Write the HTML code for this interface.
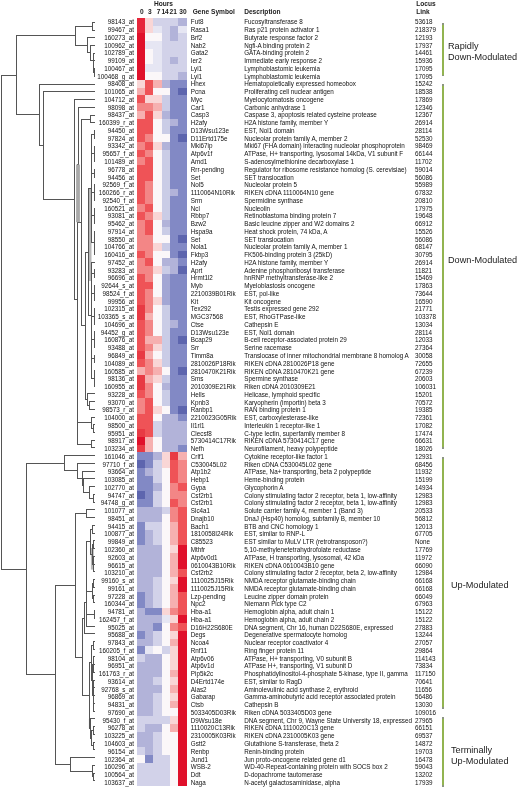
<!DOCTYPE html>
<html><head><meta charset="utf-8"><style>
html,body{margin:0;padding:0;background:#fff;}
#p{position:relative;width:520px;height:787px;overflow:hidden;background:#fff;font-family:"Liberation Sans",sans-serif;color:#333;}
#tx{position:absolute;left:0;top:0;width:520px;height:787px;filter:grayscale(1) blur(0.3px);color:#111;}
svg{position:absolute;left:0;top:0;}
.t{position:absolute;font-size:6.3px;line-height:7.76px;height:7.76px;white-space:nowrap;transform:scaleX(1.0);transform-origin:0 0;}
.id{right:385.90px;text-align:right;transform-origin:100% 0;}
.sy{left:190.8px;}
.de{left:244.2px;}
.lo{left:415px;}
.h{position:absolute;font-weight:bold;font-size:6.6px;line-height:8px;white-space:nowrap;color:#222;}
.g{position:absolute;font-size:8.8px;line-height:11.3px;white-space:nowrap;color:#1a1a1a;transform:scaleX(1.04);transform-origin:0 0;}
</style></head><body><div id="p">
<svg width="520" height="787" viewBox="0 0 520 787" shape-rendering="crispEdges" style="filter:blur(0.45px)">
<rect x="136.60" y="17.80" width="8.67" height="8.06" fill="#e6263a"/><rect x="144.97" y="17.80" width="8.67" height="8.06" fill="#f9d6d6"/><rect x="153.34" y="17.80" width="8.67" height="8.06" fill="#d2d2e9"/><rect x="161.71" y="17.80" width="8.67" height="8.06" fill="#d2d2e9"/><rect x="170.08" y="17.80" width="8.67" height="8.06" fill="#d2d2e9"/><rect x="178.45" y="17.80" width="8.37" height="8.06" fill="#b2b3d9"/><rect x="136.60" y="25.56" width="8.67" height="8.06" fill="#e6263a"/><rect x="144.97" y="25.56" width="8.67" height="8.06" fill="#f9d6d6"/><rect x="153.34" y="25.56" width="8.67" height="8.06" fill="#e6e6f3"/><rect x="161.71" y="25.56" width="8.67" height="8.06" fill="#d2d2e9"/><rect x="170.08" y="25.56" width="8.67" height="8.06" fill="#b2b3d9"/><rect x="178.45" y="25.56" width="8.37" height="8.06" fill="#e6e6f3"/><rect x="136.60" y="33.32" width="8.67" height="8.06" fill="#e0112b"/><rect x="144.97" y="33.32" width="8.67" height="8.06" fill="#fbf7f9"/><rect x="153.34" y="33.32" width="8.67" height="8.06" fill="#fbf7f9"/><rect x="161.71" y="33.32" width="8.67" height="8.06" fill="#d2d2e9"/><rect x="170.08" y="33.32" width="8.67" height="8.06" fill="#b2b3d9"/><rect x="178.45" y="33.32" width="8.37" height="8.06" fill="#d2d2e9"/><rect x="136.60" y="41.08" width="8.67" height="8.06" fill="#e0112b"/><rect x="144.97" y="41.08" width="8.67" height="8.06" fill="#e6e6f3"/><rect x="153.34" y="41.08" width="8.67" height="8.06" fill="#e6e6f3"/><rect x="161.71" y="41.08" width="8.67" height="8.06" fill="#d2d2e9"/><rect x="170.08" y="41.08" width="8.67" height="8.06" fill="#d2d2e9"/><rect x="178.45" y="41.08" width="8.37" height="8.06" fill="#d2d2e9"/><rect x="136.60" y="48.84" width="8.67" height="8.06" fill="#e0112b"/><rect x="144.97" y="48.84" width="8.67" height="8.06" fill="#fbf7f9"/><rect x="153.34" y="48.84" width="8.67" height="8.06" fill="#e6e6f3"/><rect x="161.71" y="48.84" width="8.67" height="8.06" fill="#d2d2e9"/><rect x="170.08" y="48.84" width="8.67" height="8.06" fill="#d2d2e9"/><rect x="178.45" y="48.84" width="8.37" height="8.06" fill="#d2d2e9"/><rect x="136.60" y="56.60" width="8.67" height="8.06" fill="#e0112b"/><rect x="144.97" y="56.60" width="8.67" height="8.06" fill="#fbf7f9"/><rect x="153.34" y="56.60" width="8.67" height="8.06" fill="#e6e6f3"/><rect x="161.71" y="56.60" width="8.67" height="8.06" fill="#d2d2e9"/><rect x="170.08" y="56.60" width="8.67" height="8.06" fill="#b2b3d9"/><rect x="178.45" y="56.60" width="8.37" height="8.06" fill="#d2d2e9"/><rect x="136.60" y="64.36" width="8.67" height="8.06" fill="#e0112b"/><rect x="144.97" y="64.36" width="8.67" height="8.06" fill="#e6e6f3"/><rect x="153.34" y="64.36" width="8.67" height="8.06" fill="#e6e6f3"/><rect x="161.71" y="64.36" width="8.67" height="8.06" fill="#d2d2e9"/><rect x="170.08" y="64.36" width="8.67" height="8.06" fill="#d2d2e9"/><rect x="178.45" y="64.36" width="8.37" height="8.06" fill="#d2d2e9"/><rect x="136.60" y="72.12" width="8.67" height="8.06" fill="#e0112b"/><rect x="144.97" y="72.12" width="8.67" height="8.06" fill="#fbf7f9"/><rect x="153.34" y="72.12" width="8.67" height="8.06" fill="#fbf7f9"/><rect x="161.71" y="72.12" width="8.67" height="8.06" fill="#d2d2e9"/><rect x="170.08" y="72.12" width="8.67" height="8.06" fill="#d2d2e9"/><rect x="178.45" y="72.12" width="8.37" height="8.06" fill="#b2b3d9"/><rect x="136.60" y="79.88" width="8.67" height="8.06" fill="#f9d6d6"/><rect x="144.97" y="79.88" width="8.67" height="8.06" fill="#ef5357"/><rect x="153.34" y="79.88" width="8.67" height="8.06" fill="#f6b0b0"/><rect x="161.71" y="79.88" width="8.67" height="8.06" fill="#b2b3d9"/><rect x="170.08" y="79.88" width="8.67" height="8.06" fill="#8289c5"/><rect x="178.45" y="79.88" width="8.37" height="8.06" fill="#8289c5"/><rect x="136.60" y="87.64" width="8.67" height="8.06" fill="#f6b0b0"/><rect x="144.97" y="87.64" width="8.67" height="8.06" fill="#ef5357"/><rect x="153.34" y="87.64" width="8.67" height="8.06" fill="#fbf7f9"/><rect x="161.71" y="87.64" width="8.67" height="8.06" fill="#fbf7f9"/><rect x="170.08" y="87.64" width="8.67" height="8.06" fill="#8289c5"/><rect x="178.45" y="87.64" width="8.37" height="8.06" fill="#5d65ae"/><rect x="136.60" y="95.40" width="8.67" height="8.06" fill="#ef5357"/><rect x="144.97" y="95.40" width="8.67" height="8.06" fill="#f9d6d6"/><rect x="153.34" y="95.40" width="8.67" height="8.06" fill="#f9d6d6"/><rect x="161.71" y="95.40" width="8.67" height="8.06" fill="#caccE6"/><rect x="170.08" y="95.40" width="8.67" height="8.06" fill="#8289c5"/><rect x="178.45" y="95.40" width="8.37" height="8.06" fill="#8289c5"/><rect x="136.60" y="103.16" width="8.67" height="8.06" fill="#f38686"/><rect x="144.97" y="103.16" width="8.67" height="8.06" fill="#f38686"/><rect x="153.34" y="103.16" width="8.67" height="8.06" fill="#f6b0b0"/><rect x="161.71" y="103.16" width="8.67" height="8.06" fill="#caccE6"/><rect x="170.08" y="103.16" width="8.67" height="8.06" fill="#8289c5"/><rect x="178.45" y="103.16" width="8.37" height="8.06" fill="#8289c5"/><rect x="136.60" y="110.92" width="8.67" height="8.06" fill="#f6b0b0"/><rect x="144.97" y="110.92" width="8.67" height="8.06" fill="#ef5357"/><rect x="153.34" y="110.92" width="8.67" height="8.06" fill="#f9d6d6"/><rect x="161.71" y="110.92" width="8.67" height="8.06" fill="#b2b3d9"/><rect x="170.08" y="110.92" width="8.67" height="8.06" fill="#8289c5"/><rect x="178.45" y="110.92" width="8.37" height="8.06" fill="#8289c5"/><rect x="136.60" y="118.68" width="8.67" height="8.06" fill="#ef5357"/><rect x="144.97" y="118.68" width="8.67" height="8.06" fill="#ef5357"/><rect x="153.34" y="118.68" width="8.67" height="8.06" fill="#fbf7f9"/><rect x="161.71" y="118.68" width="8.67" height="8.06" fill="#caccE6"/><rect x="170.08" y="118.68" width="8.67" height="8.06" fill="#b2b3d9"/><rect x="178.45" y="118.68" width="8.37" height="8.06" fill="#8289c5"/><rect x="136.60" y="126.44" width="8.67" height="8.06" fill="#ef5357"/><rect x="144.97" y="126.44" width="8.67" height="8.06" fill="#ef5357"/><rect x="153.34" y="126.44" width="8.67" height="8.06" fill="#fbf7f9"/><rect x="161.71" y="126.44" width="8.67" height="8.06" fill="#caccE6"/><rect x="170.08" y="126.44" width="8.67" height="8.06" fill="#8289c5"/><rect x="178.45" y="126.44" width="8.37" height="8.06" fill="#8289c5"/><rect x="136.60" y="134.20" width="8.67" height="8.06" fill="#ef5357"/><rect x="144.97" y="134.20" width="8.67" height="8.06" fill="#f38686"/><rect x="153.34" y="134.20" width="8.67" height="8.06" fill="#fbf7f9"/><rect x="161.71" y="134.20" width="8.67" height="8.06" fill="#fbf7f9"/><rect x="170.08" y="134.20" width="8.67" height="8.06" fill="#8289c5"/><rect x="178.45" y="134.20" width="8.37" height="8.06" fill="#5d65ae"/><rect x="136.60" y="141.96" width="8.67" height="8.06" fill="#f38686"/><rect x="144.97" y="141.96" width="8.67" height="8.06" fill="#ef5357"/><rect x="153.34" y="141.96" width="8.67" height="8.06" fill="#f9d6d6"/><rect x="161.71" y="141.96" width="8.67" height="8.06" fill="#b2b3d9"/><rect x="170.08" y="141.96" width="8.67" height="8.06" fill="#8289c5"/><rect x="178.45" y="141.96" width="8.37" height="8.06" fill="#8289c5"/><rect x="136.60" y="149.72" width="8.67" height="8.06" fill="#ef5357"/><rect x="144.97" y="149.72" width="8.67" height="8.06" fill="#f38686"/><rect x="153.34" y="149.72" width="8.67" height="8.06" fill="#fbf7f9"/><rect x="161.71" y="149.72" width="8.67" height="8.06" fill="#caccE6"/><rect x="170.08" y="149.72" width="8.67" height="8.06" fill="#8289c5"/><rect x="178.45" y="149.72" width="8.37" height="8.06" fill="#8289c5"/><rect x="136.60" y="157.48" width="8.67" height="8.06" fill="#f38686"/><rect x="144.97" y="157.48" width="8.67" height="8.06" fill="#ef5357"/><rect x="153.34" y="157.48" width="8.67" height="8.06" fill="#fbf7f9"/><rect x="161.71" y="157.48" width="8.67" height="8.06" fill="#caccE6"/><rect x="170.08" y="157.48" width="8.67" height="8.06" fill="#8289c5"/><rect x="178.45" y="157.48" width="8.37" height="8.06" fill="#8289c5"/><rect x="136.60" y="165.24" width="8.67" height="8.06" fill="#ef5357"/><rect x="144.97" y="165.24" width="8.67" height="8.06" fill="#ef5357"/><rect x="153.34" y="165.24" width="8.67" height="8.06" fill="#fbf7f9"/><rect x="161.71" y="165.24" width="8.67" height="8.06" fill="#caccE6"/><rect x="170.08" y="165.24" width="8.67" height="8.06" fill="#8289c5"/><rect x="178.45" y="165.24" width="8.37" height="8.06" fill="#8289c5"/><rect x="136.60" y="173.00" width="8.67" height="8.06" fill="#ef5357"/><rect x="144.97" y="173.00" width="8.67" height="8.06" fill="#ef5357"/><rect x="153.34" y="173.00" width="8.67" height="8.06" fill="#fbf7f9"/><rect x="161.71" y="173.00" width="8.67" height="8.06" fill="#caccE6"/><rect x="170.08" y="173.00" width="8.67" height="8.06" fill="#8289c5"/><rect x="178.45" y="173.00" width="8.37" height="8.06" fill="#8289c5"/><rect x="136.60" y="180.76" width="8.67" height="8.06" fill="#ef5357"/><rect x="144.97" y="180.76" width="8.67" height="8.06" fill="#f38686"/><rect x="153.34" y="180.76" width="8.67" height="8.06" fill="#fbf7f9"/><rect x="161.71" y="180.76" width="8.67" height="8.06" fill="#caccE6"/><rect x="170.08" y="180.76" width="8.67" height="8.06" fill="#8289c5"/><rect x="178.45" y="180.76" width="8.37" height="8.06" fill="#8289c5"/><rect x="136.60" y="188.52" width="8.67" height="8.06" fill="#ef5357"/><rect x="144.97" y="188.52" width="8.67" height="8.06" fill="#f38686"/><rect x="153.34" y="188.52" width="8.67" height="8.06" fill="#fbf7f9"/><rect x="161.71" y="188.52" width="8.67" height="8.06" fill="#caccE6"/><rect x="170.08" y="188.52" width="8.67" height="8.06" fill="#b2b3d9"/><rect x="178.45" y="188.52" width="8.37" height="8.06" fill="#8289c5"/><rect x="136.60" y="196.28" width="8.67" height="8.06" fill="#ef5357"/><rect x="144.97" y="196.28" width="8.67" height="8.06" fill="#f38686"/><rect x="153.34" y="196.28" width="8.67" height="8.06" fill="#fbf7f9"/><rect x="161.71" y="196.28" width="8.67" height="8.06" fill="#caccE6"/><rect x="170.08" y="196.28" width="8.67" height="8.06" fill="#8289c5"/><rect x="178.45" y="196.28" width="8.37" height="8.06" fill="#8289c5"/><rect x="136.60" y="204.04" width="8.67" height="8.06" fill="#f38686"/><rect x="144.97" y="204.04" width="8.67" height="8.06" fill="#ef5357"/><rect x="153.34" y="204.04" width="8.67" height="8.06" fill="#fbf7f9"/><rect x="161.71" y="204.04" width="8.67" height="8.06" fill="#caccE6"/><rect x="170.08" y="204.04" width="8.67" height="8.06" fill="#8289c5"/><rect x="178.45" y="204.04" width="8.37" height="8.06" fill="#8289c5"/><rect x="136.60" y="211.80" width="8.67" height="8.06" fill="#ef5357"/><rect x="144.97" y="211.80" width="8.67" height="8.06" fill="#f38686"/><rect x="153.34" y="211.80" width="8.67" height="8.06" fill="#f9d6d6"/><rect x="161.71" y="211.80" width="8.67" height="8.06" fill="#caccE6"/><rect x="170.08" y="211.80" width="8.67" height="8.06" fill="#8289c5"/><rect x="178.45" y="211.80" width="8.37" height="8.06" fill="#8289c5"/><rect x="136.60" y="219.56" width="8.67" height="8.06" fill="#f38686"/><rect x="144.97" y="219.56" width="8.67" height="8.06" fill="#ef5357"/><rect x="153.34" y="219.56" width="8.67" height="8.06" fill="#fbf7f9"/><rect x="161.71" y="219.56" width="8.67" height="8.06" fill="#b2b3d9"/><rect x="170.08" y="219.56" width="8.67" height="8.06" fill="#8289c5"/><rect x="178.45" y="219.56" width="8.37" height="8.06" fill="#8289c5"/><rect x="136.60" y="227.32" width="8.67" height="8.06" fill="#f38686"/><rect x="144.97" y="227.32" width="8.67" height="8.06" fill="#ef5357"/><rect x="153.34" y="227.32" width="8.67" height="8.06" fill="#fbf7f9"/><rect x="161.71" y="227.32" width="8.67" height="8.06" fill="#caccE6"/><rect x="170.08" y="227.32" width="8.67" height="8.06" fill="#8289c5"/><rect x="178.45" y="227.32" width="8.37" height="8.06" fill="#8289c5"/><rect x="136.60" y="235.08" width="8.67" height="8.06" fill="#f38686"/><rect x="144.97" y="235.08" width="8.67" height="8.06" fill="#f38686"/><rect x="153.34" y="235.08" width="8.67" height="8.06" fill="#fbf7f9"/><rect x="161.71" y="235.08" width="8.67" height="8.06" fill="#fbf7f9"/><rect x="170.08" y="235.08" width="8.67" height="8.06" fill="#8289c5"/><rect x="178.45" y="235.08" width="8.37" height="8.06" fill="#5d65ae"/><rect x="136.60" y="242.84" width="8.67" height="8.06" fill="#f38686"/><rect x="144.97" y="242.84" width="8.67" height="8.06" fill="#f38686"/><rect x="153.34" y="242.84" width="8.67" height="8.06" fill="#f9d6d6"/><rect x="161.71" y="242.84" width="8.67" height="8.06" fill="#caccE6"/><rect x="170.08" y="242.84" width="8.67" height="8.06" fill="#8289c5"/><rect x="178.45" y="242.84" width="8.37" height="8.06" fill="#8289c5"/><rect x="136.60" y="250.60" width="8.67" height="8.06" fill="#ef5357"/><rect x="144.97" y="250.60" width="8.67" height="8.06" fill="#f38686"/><rect x="153.34" y="250.60" width="8.67" height="8.06" fill="#fbf7f9"/><rect x="161.71" y="250.60" width="8.67" height="8.06" fill="#fbf7f9"/><rect x="170.08" y="250.60" width="8.67" height="8.06" fill="#8289c5"/><rect x="178.45" y="250.60" width="8.37" height="8.06" fill="#5d65ae"/><rect x="136.60" y="258.36" width="8.67" height="8.06" fill="#f38686"/><rect x="144.97" y="258.36" width="8.67" height="8.06" fill="#ef5357"/><rect x="153.34" y="258.36" width="8.67" height="8.06" fill="#fbf7f9"/><rect x="161.71" y="258.36" width="8.67" height="8.06" fill="#b2b3d9"/><rect x="170.08" y="258.36" width="8.67" height="8.06" fill="#b2b3d9"/><rect x="178.45" y="258.36" width="8.37" height="8.06" fill="#8289c5"/><rect x="136.60" y="266.12" width="8.67" height="8.06" fill="#f38686"/><rect x="144.97" y="266.12" width="8.67" height="8.06" fill="#f38686"/><rect x="153.34" y="266.12" width="8.67" height="8.06" fill="#f9d6d6"/><rect x="161.71" y="266.12" width="8.67" height="8.06" fill="#caccE6"/><rect x="170.08" y="266.12" width="8.67" height="8.06" fill="#b2b3d9"/><rect x="178.45" y="266.12" width="8.37" height="8.06" fill="#5d65ae"/><rect x="136.60" y="273.88" width="8.67" height="8.06" fill="#ef5357"/><rect x="144.97" y="273.88" width="8.67" height="8.06" fill="#f38686"/><rect x="153.34" y="273.88" width="8.67" height="8.06" fill="#fbf7f9"/><rect x="161.71" y="273.88" width="8.67" height="8.06" fill="#a3a6d4"/><rect x="170.08" y="273.88" width="8.67" height="8.06" fill="#8289c5"/><rect x="178.45" y="273.88" width="8.37" height="8.06" fill="#8289c5"/><rect x="136.60" y="281.64" width="8.67" height="8.06" fill="#ef5357"/><rect x="144.97" y="281.64" width="8.67" height="8.06" fill="#ef5357"/><rect x="153.34" y="281.64" width="8.67" height="8.06" fill="#fbf7f9"/><rect x="161.71" y="281.64" width="8.67" height="8.06" fill="#a3a6d4"/><rect x="170.08" y="281.64" width="8.67" height="8.06" fill="#8289c5"/><rect x="178.45" y="281.64" width="8.37" height="8.06" fill="#8289c5"/><rect x="136.60" y="289.40" width="8.67" height="8.06" fill="#ef5357"/><rect x="144.97" y="289.40" width="8.67" height="8.06" fill="#f38686"/><rect x="153.34" y="289.40" width="8.67" height="8.06" fill="#fbf7f9"/><rect x="161.71" y="289.40" width="8.67" height="8.06" fill="#a3a6d4"/><rect x="170.08" y="289.40" width="8.67" height="8.06" fill="#8289c5"/><rect x="178.45" y="289.40" width="8.37" height="8.06" fill="#8289c5"/><rect x="136.60" y="297.16" width="8.67" height="8.06" fill="#ef5357"/><rect x="144.97" y="297.16" width="8.67" height="8.06" fill="#f38686"/><rect x="153.34" y="297.16" width="8.67" height="8.06" fill="#f9d6d6"/><rect x="161.71" y="297.16" width="8.67" height="8.06" fill="#a3a6d4"/><rect x="170.08" y="297.16" width="8.67" height="8.06" fill="#8289c5"/><rect x="178.45" y="297.16" width="8.37" height="8.06" fill="#8289c5"/><rect x="136.60" y="304.92" width="8.67" height="8.06" fill="#e83a44"/><rect x="144.97" y="304.92" width="8.67" height="8.06" fill="#f38686"/><rect x="153.34" y="304.92" width="8.67" height="8.06" fill="#fbf7f9"/><rect x="161.71" y="304.92" width="8.67" height="8.06" fill="#caccE6"/><rect x="170.08" y="304.92" width="8.67" height="8.06" fill="#8289c5"/><rect x="178.45" y="304.92" width="8.37" height="8.06" fill="#8289c5"/><rect x="136.60" y="312.68" width="8.67" height="8.06" fill="#e83a44"/><rect x="144.97" y="312.68" width="8.67" height="8.06" fill="#f6b0b0"/><rect x="153.34" y="312.68" width="8.67" height="8.06" fill="#fbf7f9"/><rect x="161.71" y="312.68" width="8.67" height="8.06" fill="#caccE6"/><rect x="170.08" y="312.68" width="8.67" height="8.06" fill="#8289c5"/><rect x="178.45" y="312.68" width="8.37" height="8.06" fill="#8289c5"/><rect x="136.60" y="320.44" width="8.67" height="8.06" fill="#ef5357"/><rect x="144.97" y="320.44" width="8.67" height="8.06" fill="#f38686"/><rect x="153.34" y="320.44" width="8.67" height="8.06" fill="#fbf7f9"/><rect x="161.71" y="320.44" width="8.67" height="8.06" fill="#caccE6"/><rect x="170.08" y="320.44" width="8.67" height="8.06" fill="#b2b3d9"/><rect x="178.45" y="320.44" width="8.37" height="8.06" fill="#8289c5"/><rect x="136.60" y="328.20" width="8.67" height="8.06" fill="#ef5357"/><rect x="144.97" y="328.20" width="8.67" height="8.06" fill="#f38686"/><rect x="153.34" y="328.20" width="8.67" height="8.06" fill="#fbf7f9"/><rect x="161.71" y="328.20" width="8.67" height="8.06" fill="#caccE6"/><rect x="170.08" y="328.20" width="8.67" height="8.06" fill="#8289c5"/><rect x="178.45" y="328.20" width="8.37" height="8.06" fill="#8289c5"/><rect x="136.60" y="335.96" width="8.67" height="8.06" fill="#ef5357"/><rect x="144.97" y="335.96" width="8.67" height="8.06" fill="#f6b0b0"/><rect x="153.34" y="335.96" width="8.67" height="8.06" fill="#f6b0b0"/><rect x="161.71" y="335.96" width="8.67" height="8.06" fill="#caccE6"/><rect x="170.08" y="335.96" width="8.67" height="8.06" fill="#8289c5"/><rect x="178.45" y="335.96" width="8.37" height="8.06" fill="#5d65ae"/><rect x="136.60" y="343.72" width="8.67" height="8.06" fill="#ef5357"/><rect x="144.97" y="343.72" width="8.67" height="8.06" fill="#f38686"/><rect x="153.34" y="343.72" width="8.67" height="8.06" fill="#f9d6d6"/><rect x="161.71" y="343.72" width="8.67" height="8.06" fill="#caccE6"/><rect x="170.08" y="343.72" width="8.67" height="8.06" fill="#8289c5"/><rect x="178.45" y="343.72" width="8.37" height="8.06" fill="#8289c5"/><rect x="136.60" y="351.48" width="8.67" height="8.06" fill="#e83a44"/><rect x="144.97" y="351.48" width="8.67" height="8.06" fill="#f6b0b0"/><rect x="153.34" y="351.48" width="8.67" height="8.06" fill="#fbf7f9"/><rect x="161.71" y="351.48" width="8.67" height="8.06" fill="#caccE6"/><rect x="170.08" y="351.48" width="8.67" height="8.06" fill="#8289c5"/><rect x="178.45" y="351.48" width="8.37" height="8.06" fill="#8289c5"/><rect x="136.60" y="359.24" width="8.67" height="8.06" fill="#ef5357"/><rect x="144.97" y="359.24" width="8.67" height="8.06" fill="#f38686"/><rect x="153.34" y="359.24" width="8.67" height="8.06" fill="#f9d6d6"/><rect x="161.71" y="359.24" width="8.67" height="8.06" fill="#caccE6"/><rect x="170.08" y="359.24" width="8.67" height="8.06" fill="#8289c5"/><rect x="178.45" y="359.24" width="8.37" height="8.06" fill="#8289c5"/><rect x="136.60" y="367.00" width="8.67" height="8.06" fill="#f6b0b0"/><rect x="144.97" y="367.00" width="8.67" height="8.06" fill="#f38686"/><rect x="153.34" y="367.00" width="8.67" height="8.06" fill="#f6b0b0"/><rect x="161.71" y="367.00" width="8.67" height="8.06" fill="#fbf7f9"/><rect x="170.08" y="367.00" width="8.67" height="8.06" fill="#8289c5"/><rect x="178.45" y="367.00" width="8.37" height="8.06" fill="#5d65ae"/><rect x="136.60" y="374.76" width="8.67" height="8.06" fill="#e83a44"/><rect x="144.97" y="374.76" width="8.67" height="8.06" fill="#f6b0b0"/><rect x="153.34" y="374.76" width="8.67" height="8.06" fill="#f9d6d6"/><rect x="161.71" y="374.76" width="8.67" height="8.06" fill="#caccE6"/><rect x="170.08" y="374.76" width="8.67" height="8.06" fill="#8289c5"/><rect x="178.45" y="374.76" width="8.37" height="8.06" fill="#8289c5"/><rect x="136.60" y="382.52" width="8.67" height="8.06" fill="#e83a44"/><rect x="144.97" y="382.52" width="8.67" height="8.06" fill="#f38686"/><rect x="153.34" y="382.52" width="8.67" height="8.06" fill="#fbf7f9"/><rect x="161.71" y="382.52" width="8.67" height="8.06" fill="#b2b3d9"/><rect x="170.08" y="382.52" width="8.67" height="8.06" fill="#8289c5"/><rect x="178.45" y="382.52" width="8.37" height="8.06" fill="#8289c5"/><rect x="136.60" y="390.28" width="8.67" height="8.06" fill="#ef5357"/><rect x="144.97" y="390.28" width="8.67" height="8.06" fill="#f38686"/><rect x="153.34" y="390.28" width="8.67" height="8.06" fill="#fbf7f9"/><rect x="161.71" y="390.28" width="8.67" height="8.06" fill="#caccE6"/><rect x="170.08" y="390.28" width="8.67" height="8.06" fill="#8289c5"/><rect x="178.45" y="390.28" width="8.37" height="8.06" fill="#8289c5"/><rect x="136.60" y="398.04" width="8.67" height="8.06" fill="#f38686"/><rect x="144.97" y="398.04" width="8.67" height="8.06" fill="#ef5357"/><rect x="153.34" y="398.04" width="8.67" height="8.06" fill="#fbf7f9"/><rect x="161.71" y="398.04" width="8.67" height="8.06" fill="#caccE6"/><rect x="170.08" y="398.04" width="8.67" height="8.06" fill="#8289c5"/><rect x="178.45" y="398.04" width="8.37" height="8.06" fill="#8289c5"/><rect x="136.60" y="405.80" width="8.67" height="8.06" fill="#f38686"/><rect x="144.97" y="405.80" width="8.67" height="8.06" fill="#ef5357"/><rect x="153.34" y="405.80" width="8.67" height="8.06" fill="#f9d6d6"/><rect x="161.71" y="405.80" width="8.67" height="8.06" fill="#fbf7f9"/><rect x="170.08" y="405.80" width="8.67" height="8.06" fill="#8289c5"/><rect x="178.45" y="405.80" width="8.37" height="8.06" fill="#5d65ae"/><rect x="136.60" y="413.56" width="8.67" height="8.06" fill="#ef5357"/><rect x="144.97" y="413.56" width="8.67" height="8.06" fill="#ef5357"/><rect x="153.34" y="413.56" width="8.67" height="8.06" fill="#fbf7f9"/><rect x="161.71" y="413.56" width="8.67" height="8.06" fill="#b2b3d9"/><rect x="170.08" y="413.56" width="8.67" height="8.06" fill="#b2b3d9"/><rect x="178.45" y="413.56" width="8.37" height="8.06" fill="#8289c5"/><rect x="136.60" y="421.32" width="8.67" height="8.06" fill="#ef5357"/><rect x="144.97" y="421.32" width="8.67" height="8.06" fill="#ef5357"/><rect x="153.34" y="421.32" width="8.67" height="8.06" fill="#d2d2e9"/><rect x="161.71" y="421.32" width="8.67" height="8.06" fill="#b2b3d9"/><rect x="170.08" y="421.32" width="8.67" height="8.06" fill="#b2b3d9"/><rect x="178.45" y="421.32" width="8.37" height="8.06" fill="#b2b3d9"/><rect x="136.60" y="429.08" width="8.67" height="8.06" fill="#e83a44"/><rect x="144.97" y="429.08" width="8.67" height="8.06" fill="#ef5357"/><rect x="153.34" y="429.08" width="8.67" height="8.06" fill="#d2d2e9"/><rect x="161.71" y="429.08" width="8.67" height="8.06" fill="#b2b3d9"/><rect x="170.08" y="429.08" width="8.67" height="8.06" fill="#b2b3d9"/><rect x="178.45" y="429.08" width="8.37" height="8.06" fill="#b2b3d9"/><rect x="136.60" y="436.84" width="8.67" height="8.06" fill="#e0112b"/><rect x="144.97" y="436.84" width="8.67" height="8.06" fill="#f6b0b0"/><rect x="153.34" y="436.84" width="8.67" height="8.06" fill="#fbf7f9"/><rect x="161.71" y="436.84" width="8.67" height="8.06" fill="#b2b3d9"/><rect x="170.08" y="436.84" width="8.67" height="8.06" fill="#b2b3d9"/><rect x="178.45" y="436.84" width="8.37" height="8.06" fill="#b2b3d9"/><rect x="136.60" y="444.60" width="8.67" height="8.06" fill="#e83a44"/><rect x="144.97" y="444.60" width="8.67" height="8.06" fill="#f6b0b0"/><rect x="153.34" y="444.60" width="8.67" height="8.06" fill="#fbf7f9"/><rect x="161.71" y="444.60" width="8.67" height="8.06" fill="#b2b3d9"/><rect x="170.08" y="444.60" width="8.67" height="8.06" fill="#b2b3d9"/><rect x="178.45" y="444.60" width="8.37" height="8.06" fill="#8289c5"/><rect x="136.60" y="452.36" width="8.67" height="8.06" fill="#8289c5"/><rect x="144.97" y="452.36" width="8.67" height="8.06" fill="#8289c5"/><rect x="153.34" y="452.36" width="8.67" height="8.06" fill="#b2b3d9"/><rect x="161.71" y="452.36" width="8.67" height="8.06" fill="#f9d6d6"/><rect x="170.08" y="452.36" width="8.67" height="8.06" fill="#e83a44"/><rect x="178.45" y="452.36" width="8.37" height="8.06" fill="#f6b0b0"/><rect x="136.60" y="460.12" width="8.67" height="8.06" fill="#5d65ae"/><rect x="144.97" y="460.12" width="8.67" height="8.06" fill="#8289c5"/><rect x="153.34" y="460.12" width="8.67" height="8.06" fill="#d2d2e9"/><rect x="161.71" y="460.12" width="8.67" height="8.06" fill="#f9d6d6"/><rect x="170.08" y="460.12" width="8.67" height="8.06" fill="#ef5357"/><rect x="178.45" y="460.12" width="8.37" height="8.06" fill="#f38686"/><rect x="136.60" y="467.88" width="8.67" height="8.06" fill="#8289c5"/><rect x="144.97" y="467.88" width="8.67" height="8.06" fill="#b2b3d9"/><rect x="153.34" y="467.88" width="8.67" height="8.06" fill="#d2d2e9"/><rect x="161.71" y="467.88" width="8.67" height="8.06" fill="#fbf7f9"/><rect x="170.08" y="467.88" width="8.67" height="8.06" fill="#ef5357"/><rect x="178.45" y="467.88" width="8.37" height="8.06" fill="#f38686"/><rect x="136.60" y="475.64" width="8.67" height="8.06" fill="#8289c5"/><rect x="144.97" y="475.64" width="8.67" height="8.06" fill="#8289c5"/><rect x="153.34" y="475.64" width="8.67" height="8.06" fill="#d2d2e9"/><rect x="161.71" y="475.64" width="8.67" height="8.06" fill="#fbf7f9"/><rect x="170.08" y="475.64" width="8.67" height="8.06" fill="#ef5357"/><rect x="178.45" y="475.64" width="8.37" height="8.06" fill="#f38686"/><rect x="136.60" y="483.40" width="8.67" height="8.06" fill="#8289c5"/><rect x="144.97" y="483.40" width="8.67" height="8.06" fill="#8289c5"/><rect x="153.34" y="483.40" width="8.67" height="8.06" fill="#b2b3d9"/><rect x="161.71" y="483.40" width="8.67" height="8.06" fill="#fbf7f9"/><rect x="170.08" y="483.40" width="8.67" height="8.06" fill="#f38686"/><rect x="178.45" y="483.40" width="8.37" height="8.06" fill="#ef5357"/><rect x="136.60" y="491.16" width="8.67" height="8.06" fill="#5d65ae"/><rect x="144.97" y="491.16" width="8.67" height="8.06" fill="#8289c5"/><rect x="153.34" y="491.16" width="8.67" height="8.06" fill="#d2d2e9"/><rect x="161.71" y="491.16" width="8.67" height="8.06" fill="#fbf7f9"/><rect x="170.08" y="491.16" width="8.67" height="8.06" fill="#f38686"/><rect x="178.45" y="491.16" width="8.37" height="8.06" fill="#f38686"/><rect x="136.60" y="498.92" width="8.67" height="8.06" fill="#8289c5"/><rect x="144.97" y="498.92" width="8.67" height="8.06" fill="#8289c5"/><rect x="153.34" y="498.92" width="8.67" height="8.06" fill="#d2d2e9"/><rect x="161.71" y="498.92" width="8.67" height="8.06" fill="#fbf7f9"/><rect x="170.08" y="498.92" width="8.67" height="8.06" fill="#ef5357"/><rect x="178.45" y="498.92" width="8.37" height="8.06" fill="#f38686"/><rect x="136.60" y="506.68" width="8.67" height="8.06" fill="#b2b3d9"/><rect x="144.97" y="506.68" width="8.67" height="8.06" fill="#b2b3d9"/><rect x="153.34" y="506.68" width="8.67" height="8.06" fill="#b2b3d9"/><rect x="161.71" y="506.68" width="8.67" height="8.06" fill="#d2d2e9"/><rect x="170.08" y="506.68" width="8.67" height="8.06" fill="#f38686"/><rect x="178.45" y="506.68" width="8.37" height="8.06" fill="#ef5357"/><rect x="136.60" y="514.44" width="8.67" height="8.06" fill="#b2b3d9"/><rect x="144.97" y="514.44" width="8.67" height="8.06" fill="#b2b3d9"/><rect x="153.34" y="514.44" width="8.67" height="8.06" fill="#b2b3d9"/><rect x="161.71" y="514.44" width="8.67" height="8.06" fill="#fbf7f9"/><rect x="170.08" y="514.44" width="8.67" height="8.06" fill="#f38686"/><rect x="178.45" y="514.44" width="8.37" height="8.06" fill="#ef5357"/><rect x="136.60" y="522.20" width="8.67" height="8.06" fill="#8289c5"/><rect x="144.97" y="522.20" width="8.67" height="8.06" fill="#d2d2e9"/><rect x="153.34" y="522.20" width="8.67" height="8.06" fill="#d2d2e9"/><rect x="161.71" y="522.20" width="8.67" height="8.06" fill="#fbf7f9"/><rect x="170.08" y="522.20" width="8.67" height="8.06" fill="#f6b0b0"/><rect x="178.45" y="522.20" width="8.37" height="8.06" fill="#ef5357"/><rect x="136.60" y="529.96" width="8.67" height="8.06" fill="#8289c5"/><rect x="144.97" y="529.96" width="8.67" height="8.06" fill="#b2b3d9"/><rect x="153.34" y="529.96" width="8.67" height="8.06" fill="#d2d2e9"/><rect x="161.71" y="529.96" width="8.67" height="8.06" fill="#fbf7f9"/><rect x="170.08" y="529.96" width="8.67" height="8.06" fill="#f6b0b0"/><rect x="178.45" y="529.96" width="8.37" height="8.06" fill="#ef5357"/><rect x="136.60" y="537.72" width="8.67" height="8.06" fill="#8289c5"/><rect x="144.97" y="537.72" width="8.67" height="8.06" fill="#b2b3d9"/><rect x="153.34" y="537.72" width="8.67" height="8.06" fill="#d2d2e9"/><rect x="161.71" y="537.72" width="8.67" height="8.06" fill="#fbf7f9"/><rect x="170.08" y="537.72" width="8.67" height="8.06" fill="#f6b0b0"/><rect x="178.45" y="537.72" width="8.37" height="8.06" fill="#ef5357"/><rect x="136.60" y="545.48" width="8.67" height="8.06" fill="#b2b3d9"/><rect x="144.97" y="545.48" width="8.67" height="8.06" fill="#b2b3d9"/><rect x="153.34" y="545.48" width="8.67" height="8.06" fill="#b2b3d9"/><rect x="161.71" y="545.48" width="8.67" height="8.06" fill="#fbf7f9"/><rect x="170.08" y="545.48" width="8.67" height="8.06" fill="#f9d6d6"/><rect x="178.45" y="545.48" width="8.37" height="8.06" fill="#e0112b"/><rect x="136.60" y="553.24" width="8.67" height="8.06" fill="#b2b3d9"/><rect x="144.97" y="553.24" width="8.67" height="8.06" fill="#b2b3d9"/><rect x="153.34" y="553.24" width="8.67" height="8.06" fill="#b2b3d9"/><rect x="161.71" y="553.24" width="8.67" height="8.06" fill="#fbf7f9"/><rect x="170.08" y="553.24" width="8.67" height="8.06" fill="#f6b0b0"/><rect x="178.45" y="553.24" width="8.37" height="8.06" fill="#e0112b"/><rect x="136.60" y="561.00" width="8.67" height="8.06" fill="#b2b3d9"/><rect x="144.97" y="561.00" width="8.67" height="8.06" fill="#b2b3d9"/><rect x="153.34" y="561.00" width="8.67" height="8.06" fill="#b2b3d9"/><rect x="161.71" y="561.00" width="8.67" height="8.06" fill="#fbf7f9"/><rect x="170.08" y="561.00" width="8.67" height="8.06" fill="#f6b0b0"/><rect x="178.45" y="561.00" width="8.37" height="8.06" fill="#e0112b"/><rect x="136.60" y="568.76" width="8.67" height="8.06" fill="#b2b3d9"/><rect x="144.97" y="568.76" width="8.67" height="8.06" fill="#b2b3d9"/><rect x="153.34" y="568.76" width="8.67" height="8.06" fill="#b2b3d9"/><rect x="161.71" y="568.76" width="8.67" height="8.06" fill="#fbf7f9"/><rect x="170.08" y="568.76" width="8.67" height="8.06" fill="#f6b0b0"/><rect x="178.45" y="568.76" width="8.37" height="8.06" fill="#ef5357"/><rect x="136.60" y="576.52" width="8.67" height="8.06" fill="#b2b3d9"/><rect x="144.97" y="576.52" width="8.67" height="8.06" fill="#b2b3d9"/><rect x="153.34" y="576.52" width="8.67" height="8.06" fill="#d2d2e9"/><rect x="161.71" y="576.52" width="8.67" height="8.06" fill="#fbf7f9"/><rect x="170.08" y="576.52" width="8.67" height="8.06" fill="#f9d6d6"/><rect x="178.45" y="576.52" width="8.37" height="8.06" fill="#e0112b"/><rect x="136.60" y="584.28" width="8.67" height="8.06" fill="#b2b3d9"/><rect x="144.97" y="584.28" width="8.67" height="8.06" fill="#b2b3d9"/><rect x="153.34" y="584.28" width="8.67" height="8.06" fill="#d2d2e9"/><rect x="161.71" y="584.28" width="8.67" height="8.06" fill="#fbf7f9"/><rect x="170.08" y="584.28" width="8.67" height="8.06" fill="#f6b0b0"/><rect x="178.45" y="584.28" width="8.37" height="8.06" fill="#e0112b"/><rect x="136.60" y="592.04" width="8.67" height="8.06" fill="#8289c5"/><rect x="144.97" y="592.04" width="8.67" height="8.06" fill="#b2b3d9"/><rect x="153.34" y="592.04" width="8.67" height="8.06" fill="#d2d2e9"/><rect x="161.71" y="592.04" width="8.67" height="8.06" fill="#fbf7f9"/><rect x="170.08" y="592.04" width="8.67" height="8.06" fill="#f6b0b0"/><rect x="178.45" y="592.04" width="8.37" height="8.06" fill="#ef5357"/><rect x="136.60" y="599.80" width="8.67" height="8.06" fill="#8289c5"/><rect x="144.97" y="599.80" width="8.67" height="8.06" fill="#b2b3d9"/><rect x="153.34" y="599.80" width="8.67" height="8.06" fill="#d2d2e9"/><rect x="161.71" y="599.80" width="8.67" height="8.06" fill="#fbf7f9"/><rect x="170.08" y="599.80" width="8.67" height="8.06" fill="#f6b0b0"/><rect x="178.45" y="599.80" width="8.37" height="8.06" fill="#ef5357"/><rect x="136.60" y="607.56" width="8.67" height="8.06" fill="#b2b3d9"/><rect x="144.97" y="607.56" width="8.67" height="8.06" fill="#8289c5"/><rect x="153.34" y="607.56" width="8.67" height="8.06" fill="#8289c5"/><rect x="161.71" y="607.56" width="8.67" height="8.06" fill="#f9d6d6"/><rect x="170.08" y="607.56" width="8.67" height="8.06" fill="#f38686"/><rect x="178.45" y="607.56" width="8.37" height="8.06" fill="#ef5357"/><rect x="136.60" y="615.32" width="8.67" height="8.06" fill="#b2b3d9"/><rect x="144.97" y="615.32" width="8.67" height="8.06" fill="#b2b3d9"/><rect x="153.34" y="615.32" width="8.67" height="8.06" fill="#b2b3d9"/><rect x="161.71" y="615.32" width="8.67" height="8.06" fill="#e6e6f3"/><rect x="170.08" y="615.32" width="8.67" height="8.06" fill="#f9d6d6"/><rect x="178.45" y="615.32" width="8.37" height="8.06" fill="#e0112b"/><rect x="136.60" y="623.08" width="8.67" height="8.06" fill="#b2b3d9"/><rect x="144.97" y="623.08" width="8.67" height="8.06" fill="#b2b3d9"/><rect x="153.34" y="623.08" width="8.67" height="8.06" fill="#8289c5"/><rect x="161.71" y="623.08" width="8.67" height="8.06" fill="#fbf7f9"/><rect x="170.08" y="623.08" width="8.67" height="8.06" fill="#f38686"/><rect x="178.45" y="623.08" width="8.37" height="8.06" fill="#ef5357"/><rect x="136.60" y="630.84" width="8.67" height="8.06" fill="#8289c5"/><rect x="144.97" y="630.84" width="8.67" height="8.06" fill="#b2b3d9"/><rect x="153.34" y="630.84" width="8.67" height="8.06" fill="#d2d2e9"/><rect x="161.71" y="630.84" width="8.67" height="8.06" fill="#fbf7f9"/><rect x="170.08" y="630.84" width="8.67" height="8.06" fill="#f9d6d6"/><rect x="178.45" y="630.84" width="8.37" height="8.06" fill="#e0112b"/><rect x="136.60" y="638.60" width="8.67" height="8.06" fill="#b2b3d9"/><rect x="144.97" y="638.60" width="8.67" height="8.06" fill="#b2b3d9"/><rect x="153.34" y="638.60" width="8.67" height="8.06" fill="#d2d2e9"/><rect x="161.71" y="638.60" width="8.67" height="8.06" fill="#fbf7f9"/><rect x="170.08" y="638.60" width="8.67" height="8.06" fill="#f6b0b0"/><rect x="178.45" y="638.60" width="8.37" height="8.06" fill="#e0112b"/><rect x="136.60" y="646.36" width="8.67" height="8.06" fill="#8289c5"/><rect x="144.97" y="646.36" width="8.67" height="8.06" fill="#e6e6f3"/><rect x="153.34" y="646.36" width="8.67" height="8.06" fill="#fbf7f9"/><rect x="161.71" y="646.36" width="8.67" height="8.06" fill="#d2d2e9"/><rect x="170.08" y="646.36" width="8.67" height="8.06" fill="#f9d6d6"/><rect x="178.45" y="646.36" width="8.37" height="8.06" fill="#e0112b"/><rect x="136.60" y="654.12" width="8.67" height="8.06" fill="#d2d2e9"/><rect x="144.97" y="654.12" width="8.67" height="8.06" fill="#b2b3d9"/><rect x="153.34" y="654.12" width="8.67" height="8.06" fill="#b2b3d9"/><rect x="161.71" y="654.12" width="8.67" height="8.06" fill="#fbf7f9"/><rect x="170.08" y="654.12" width="8.67" height="8.06" fill="#f9d6d6"/><rect x="178.45" y="654.12" width="8.37" height="8.06" fill="#e0112b"/><rect x="136.60" y="661.88" width="8.67" height="8.06" fill="#b2b3d9"/><rect x="144.97" y="661.88" width="8.67" height="8.06" fill="#b2b3d9"/><rect x="153.34" y="661.88" width="8.67" height="8.06" fill="#b2b3d9"/><rect x="161.71" y="661.88" width="8.67" height="8.06" fill="#fbf7f9"/><rect x="170.08" y="661.88" width="8.67" height="8.06" fill="#f9d6d6"/><rect x="178.45" y="661.88" width="8.37" height="8.06" fill="#e0112b"/><rect x="136.60" y="669.64" width="8.67" height="8.06" fill="#b2b3d9"/><rect x="144.97" y="669.64" width="8.67" height="8.06" fill="#b2b3d9"/><rect x="153.34" y="669.64" width="8.67" height="8.06" fill="#b2b3d9"/><rect x="161.71" y="669.64" width="8.67" height="8.06" fill="#fbf7f9"/><rect x="170.08" y="669.64" width="8.67" height="8.06" fill="#f6b0b0"/><rect x="178.45" y="669.64" width="8.37" height="8.06" fill="#e0112b"/><rect x="136.60" y="677.40" width="8.67" height="8.06" fill="#b2b3d9"/><rect x="144.97" y="677.40" width="8.67" height="8.06" fill="#b2b3d9"/><rect x="153.34" y="677.40" width="8.67" height="8.06" fill="#d2d2e9"/><rect x="161.71" y="677.40" width="8.67" height="8.06" fill="#fbf7f9"/><rect x="170.08" y="677.40" width="8.67" height="8.06" fill="#f9d6d6"/><rect x="178.45" y="677.40" width="8.37" height="8.06" fill="#e0112b"/><rect x="136.60" y="685.16" width="8.67" height="8.06" fill="#b2b3d9"/><rect x="144.97" y="685.16" width="8.67" height="8.06" fill="#b2b3d9"/><rect x="153.34" y="685.16" width="8.67" height="8.06" fill="#b2b3d9"/><rect x="161.71" y="685.16" width="8.67" height="8.06" fill="#fbf7f9"/><rect x="170.08" y="685.16" width="8.67" height="8.06" fill="#f6b0b0"/><rect x="178.45" y="685.16" width="8.37" height="8.06" fill="#e0112b"/><rect x="136.60" y="692.92" width="8.67" height="8.06" fill="#b2b3d9"/><rect x="144.97" y="692.92" width="8.67" height="8.06" fill="#b2b3d9"/><rect x="153.34" y="692.92" width="8.67" height="8.06" fill="#d2d2e9"/><rect x="161.71" y="692.92" width="8.67" height="8.06" fill="#fbf7f9"/><rect x="170.08" y="692.92" width="8.67" height="8.06" fill="#f9d6d6"/><rect x="178.45" y="692.92" width="8.37" height="8.06" fill="#e0112b"/><rect x="136.60" y="700.68" width="8.67" height="8.06" fill="#b2b3d9"/><rect x="144.97" y="700.68" width="8.67" height="8.06" fill="#b2b3d9"/><rect x="153.34" y="700.68" width="8.67" height="8.06" fill="#d2d2e9"/><rect x="161.71" y="700.68" width="8.67" height="8.06" fill="#fbf7f9"/><rect x="170.08" y="700.68" width="8.67" height="8.06" fill="#f6b0b0"/><rect x="178.45" y="700.68" width="8.37" height="8.06" fill="#e0112b"/><rect x="136.60" y="708.44" width="8.67" height="8.06" fill="#b2b3d9"/><rect x="144.97" y="708.44" width="8.67" height="8.06" fill="#b2b3d9"/><rect x="153.34" y="708.44" width="8.67" height="8.06" fill="#d2d2e9"/><rect x="161.71" y="708.44" width="8.67" height="8.06" fill="#fbf7f9"/><rect x="170.08" y="708.44" width="8.67" height="8.06" fill="#fbf7f9"/><rect x="178.45" y="708.44" width="8.37" height="8.06" fill="#e0112b"/><rect x="136.60" y="716.20" width="8.67" height="8.06" fill="#d2d2e9"/><rect x="144.97" y="716.20" width="8.67" height="8.06" fill="#d2d2e9"/><rect x="153.34" y="716.20" width="8.67" height="8.06" fill="#d2d2e9"/><rect x="161.71" y="716.20" width="8.67" height="8.06" fill="#d2d2e9"/><rect x="170.08" y="716.20" width="8.67" height="8.06" fill="#f9d6d6"/><rect x="178.45" y="716.20" width="8.37" height="8.06" fill="#e0112b"/><rect x="136.60" y="723.96" width="8.67" height="8.06" fill="#d2d2e9"/><rect x="144.97" y="723.96" width="8.67" height="8.06" fill="#b2b3d9"/><rect x="153.34" y="723.96" width="8.67" height="8.06" fill="#b2b3d9"/><rect x="161.71" y="723.96" width="8.67" height="8.06" fill="#fbf7f9"/><rect x="170.08" y="723.96" width="8.67" height="8.06" fill="#f6b0b0"/><rect x="178.45" y="723.96" width="8.37" height="8.06" fill="#e0112b"/><rect x="136.60" y="731.72" width="8.67" height="8.06" fill="#b2b3d9"/><rect x="144.97" y="731.72" width="8.67" height="8.06" fill="#b2b3d9"/><rect x="153.34" y="731.72" width="8.67" height="8.06" fill="#d2d2e9"/><rect x="161.71" y="731.72" width="8.67" height="8.06" fill="#fbf7f9"/><rect x="170.08" y="731.72" width="8.67" height="8.06" fill="#fbf7f9"/><rect x="178.45" y="731.72" width="8.37" height="8.06" fill="#e0112b"/><rect x="136.60" y="739.48" width="8.67" height="8.06" fill="#b2b3d9"/><rect x="144.97" y="739.48" width="8.67" height="8.06" fill="#b2b3d9"/><rect x="153.34" y="739.48" width="8.67" height="8.06" fill="#d2d2e9"/><rect x="161.71" y="739.48" width="8.67" height="8.06" fill="#fbf7f9"/><rect x="170.08" y="739.48" width="8.67" height="8.06" fill="#fbf7f9"/><rect x="178.45" y="739.48" width="8.37" height="8.06" fill="#e0112b"/><rect x="136.60" y="747.24" width="8.67" height="8.06" fill="#d2d2e9"/><rect x="144.97" y="747.24" width="8.67" height="8.06" fill="#b2b3d9"/><rect x="153.34" y="747.24" width="8.67" height="8.06" fill="#d2d2e9"/><rect x="161.71" y="747.24" width="8.67" height="8.06" fill="#fbf7f9"/><rect x="170.08" y="747.24" width="8.67" height="8.06" fill="#fbf7f9"/><rect x="178.45" y="747.24" width="8.37" height="8.06" fill="#e0112b"/><rect x="136.60" y="755.00" width="8.67" height="8.06" fill="#fbf7f9"/><rect x="144.97" y="755.00" width="8.67" height="8.06" fill="#8289c5"/><rect x="153.34" y="755.00" width="8.67" height="8.06" fill="#d2d2e9"/><rect x="161.71" y="755.00" width="8.67" height="8.06" fill="#d2d2e9"/><rect x="170.08" y="755.00" width="8.67" height="8.06" fill="#fbf7f9"/><rect x="178.45" y="755.00" width="8.37" height="8.06" fill="#e0112b"/><rect x="136.60" y="762.76" width="8.67" height="8.06" fill="#d2d2e9"/><rect x="144.97" y="762.76" width="8.67" height="8.06" fill="#d2d2e9"/><rect x="153.34" y="762.76" width="8.67" height="8.06" fill="#d2d2e9"/><rect x="161.71" y="762.76" width="8.67" height="8.06" fill="#d2d2e9"/><rect x="170.08" y="762.76" width="8.67" height="8.06" fill="#fbf7f9"/><rect x="178.45" y="762.76" width="8.37" height="8.06" fill="#e0112b"/><rect x="136.60" y="770.52" width="8.67" height="8.06" fill="#d2d2e9"/><rect x="144.97" y="770.52" width="8.67" height="8.06" fill="#d2d2e9"/><rect x="153.34" y="770.52" width="8.67" height="8.06" fill="#d2d2e9"/><rect x="161.71" y="770.52" width="8.67" height="8.06" fill="#d2d2e9"/><rect x="170.08" y="770.52" width="8.67" height="8.06" fill="#fbf7f9"/><rect x="178.45" y="770.52" width="8.37" height="8.06" fill="#e0112b"/><rect x="136.60" y="778.28" width="8.67" height="7.76" fill="#d2d2e9"/><rect x="144.97" y="778.28" width="8.67" height="7.76" fill="#d2d2e9"/><rect x="153.34" y="778.28" width="8.67" height="7.76" fill="#d2d2e9"/><rect x="161.71" y="778.28" width="8.67" height="7.76" fill="#d2d2e9"/><rect x="170.08" y="778.28" width="8.67" height="7.76" fill="#fbf7f9"/><rect x="178.45" y="778.28" width="8.37" height="7.76" fill="#e0112b"/><rect x="442.4" y="23.20" width="1.5" height="53.00" fill="#92b450"/><rect x="442.4" y="23.20" width="1.5" height="1.6" fill="#8c9680"/><rect x="442.4" y="74.60" width="1.5" height="1.6" fill="#8c9680"/><rect x="442.4" y="83.90" width="1.5" height="364.70" fill="#92b450"/><rect x="442.4" y="83.90" width="1.5" height="1.6" fill="#8c9680"/><rect x="442.4" y="447.00" width="1.5" height="1.6" fill="#8c9680"/><rect x="442.4" y="457.20" width="1.5" height="251.30" fill="#92b450"/><rect x="442.4" y="457.20" width="1.5" height="1.6" fill="#8c9680"/><rect x="442.4" y="706.90" width="1.5" height="1.6" fill="#8c9680"/><rect x="442.4" y="717.30" width="1.5" height="69.20" fill="#92b450"/><rect x="442.4" y="717.30" width="1.5" height="1.6" fill="#8c9680"/><rect x="442.4" y="784.90" width="1.5" height="1.6" fill="#8c9680"/>
</svg>
<svg width="520" height="787" viewBox="0 0 520 787">
<g><rect x="88.6" y="188.5" width="2.9" height="92.5" fill="#b8b8b8"/><rect x="90.9" y="548" width="2.9" height="21.6" fill="#b8b8b8"/><rect x="88.9" y="719" width="1.8" height="9.3" fill="#b0b0b0"/></g>
<g stroke="#555" stroke-width="1" fill="none" shape-rendering="crispEdges"><path d="M92.00 22.50H95.00M92.00 30.50H95.00M92.50 22.00V31.00M87.00 37.50H95.00M90.00 45.50H95.00M93.00 53.50H95.00M93.00 60.50H95.00M94.00 68.50H95.00M94.00 76.50H95.00M94.50 68.00V77.00M93.50 60.00V73.00M93.00 72.50H94.20M93.50 53.00V67.00M93.00 66.50H93.80M90.50 45.00V61.00M90.00 60.50H93.20M87.50 37.00V53.00M87.00 52.50H90.60M75.50 26.00V46.00M75.00 26.50H92.70M75.00 45.50H87.40M39.00 84.50H95.00M43.00 91.50H95.00M74.00 99.50H95.00M78.00 107.50H95.00M90.00 115.50H95.00M90.00 122.50H95.00M90.50 115.00V123.00M94.00 130.50H95.00M94.00 138.50H95.00M94.50 130.00V139.00M91.00 134.50H94.00M94.00 146.50H95.00M94.00 153.50H95.00M94.00 161.50H95.00M94.50 146.00V162.00M91.00 153.50H94.00M94.00 169.50H95.00M94.00 177.50H95.00M94.50 169.00V178.00M91.00 173.50H94.00M94.00 184.50H95.00M94.00 192.50H95.00M94.00 200.50H95.00M94.50 184.00V201.00M91.00 192.50H94.00M94.00 208.50H95.00M94.00 215.50H95.00M94.00 223.50H95.00M94.50 208.00V224.00M91.00 215.50H94.00M94.00 231.50H95.00M94.00 239.50H95.00M94.00 246.50H95.00M94.00 254.50H95.00M94.50 231.00V255.00M91.00 242.50H94.00M91.50 134.00V243.00M91.00 262.50H95.00M94.00 269.50H95.00M94.00 277.50H95.00M94.50 269.00V278.00M91.00 273.50H94.00M94.00 285.50H95.00M94.00 293.50H95.00M94.00 300.50H95.00M94.50 285.00V301.00M91.00 293.50H94.00M94.00 308.50H95.00M94.00 316.50H95.00M94.00 324.50H95.00M94.50 308.00V325.00M91.00 316.50H94.00M94.00 331.50H95.00M94.00 339.50H95.00M94.00 347.50H95.00M94.50 331.00V348.00M91.00 339.50H94.00M94.00 355.50H95.00M94.00 362.50H95.00M94.50 355.00V363.00M91.00 358.50H94.00M94.00 370.50H95.00M94.00 378.50H95.00M94.00 386.50H95.00M94.50 370.00V387.00M91.00 378.50H94.00M91.50 262.00V379.00M88.50 188.00V316.00M88.00 188.50H91.40M88.00 315.50H91.70M89.50 401.00V410.00M89.00 401.50H95.00M89.00 409.50H95.00M87.00 393.50H95.00M87.50 393.00V406.00M87.00 405.50H89.30M85.50 252.00V400.00M85.00 252.50H88.50M85.00 399.50H87.80M81.50 119.00V326.00M81.00 119.50H90.00M81.00 325.50H85.30M78.50 107.00V223.00M78.00 222.50H81.30M93.00 424.50H95.00M93.00 432.50H95.00M93.50 424.00V433.00M91.00 417.50H95.00M91.50 417.00V429.00M91.00 428.50H93.50M91.00 440.50H95.00M91.00 447.50H95.00M91.50 440.00V448.00M77.50 422.00V445.00M77.00 422.50H91.80M77.00 444.50H91.50M77.50 164.00V434.00M77.00 164.50H78.60M77.00 433.50H77.50M74.50 99.00V300.00M74.00 299.50H77.00M43.50 91.00V200.00M43.00 199.50H74.20M39.50 84.00V146.00M39.00 145.50H43.30M16.50 35.00V115.00M16.00 35.50H75.40M16.00 114.50H39.40M93.00 494.50H95.00M93.00 502.50H95.00M93.50 494.00V503.00M89.00 486.50H95.00M89.50 486.00V499.00M89.00 498.50H93.50M83.00 478.50H95.00M83.50 478.00V493.00M83.00 492.50H89.50M82.00 471.50H95.00M82.50 471.00V486.00M82.00 485.50H83.50M77.00 463.50H95.00M77.50 463.00V479.00M77.00 478.50H82.90M64.00 455.50H95.00M64.50 455.00V471.00M64.00 470.50H77.30M86.00 509.50H95.00M86.00 517.50H95.00M86.50 509.00V518.00M92.00 525.50H95.00M92.00 533.50H95.00M92.50 525.00V534.00M93.00 540.50H95.00M93.00 548.50H95.00M93.50 540.00V549.00M92.00 544.50H93.60M93.00 556.50H95.00M93.00 564.50H95.00M93.00 571.50H95.00M93.50 556.00V572.00M92.00 564.50H93.60M92.50 544.00V565.00M90.50 529.00V555.00M90.00 529.50H92.70M90.00 554.50H92.30M93.00 579.50H95.00M93.00 587.50H95.00M93.50 579.00V588.00M92.00 583.50H93.80M93.00 595.50H95.00M93.00 602.50H95.00M93.50 595.00V603.00M92.00 598.50H93.80M92.50 583.00V599.00M94.00 610.50H95.00M94.00 618.50H95.00M94.50 610.00V619.00M86.00 626.50H95.00M86.50 541.00V627.00M86.00 541.50H90.80M86.00 591.50H92.80M86.00 614.50H94.40M84.00 633.50H95.00M84.50 602.00V634.00M84.00 602.50H86.50M93.00 641.50H95.00M93.00 649.50H95.00M93.50 641.00V650.00M93.00 656.50H95.00M93.00 664.50H95.00M93.00 672.50H95.00M93.50 656.00V673.00M93.00 680.50H95.00M93.00 687.50H95.00M93.00 695.50H95.00M93.00 703.50H95.00M93.00 711.50H95.00M93.50 680.00V712.00M92.50 664.00V696.00M92.00 664.50H93.30M92.00 695.50H93.30M91.50 645.00V681.00M91.00 645.50H93.30M91.00 680.50H92.10M93.00 726.50H95.00M93.00 734.50H95.00M93.50 726.00V735.00M91.00 730.50H93.50M93.00 742.50H95.00M93.00 749.50H95.00M93.50 742.00V750.00M91.00 745.50H93.50M91.50 730.00V746.00M90.00 718.50H95.00M90.50 718.00V739.00M90.00 738.50H91.20M89.50 662.00V729.00M89.00 662.50H91.70M89.00 728.50H90.60M82.50 618.00V696.00M82.00 618.50H84.30M82.00 695.50H89.00M75.50 513.00V658.00M75.00 513.50H86.40M75.00 657.50H82.60M92.00 765.50H95.00M93.00 773.50H95.00M93.00 780.50H95.00M93.50 773.00V781.00M92.50 765.00V777.00M92.00 776.50H93.30M70.00 757.50H95.00M70.50 757.00V772.00M70.00 771.50H92.20M55.50 585.00V765.00M55.00 585.50H75.80M55.00 764.50H70.80M26.50 463.00V675.00M26.00 463.50H64.90M26.00 674.50H55.60M1.50 75.00V570.00M1.00 75.50H16.30M1.00 569.50H26.00"/></g>
<rect x="76.1" y="164.6" width="3.8" height="57.6" fill="#a9a9a9"/>
</svg>
<div id="tx">
<div class="h" style="left:153.9px;top:0.2px">Hours</div>
<div class="h" style="left:140px;top:8.2px">0</div>
<div class="h" style="left:147.9px;top:8.2px">3</div>
<div class="h" style="left:156.8px;top:8.2px">7</div>
<div class="h" style="left:161.4px;top:8.2px">14</div>
<div class="h" style="left:169.5px;top:8.2px">21</div>
<div class="h" style="left:179.3px;top:8.2px">30</div>
<div class="h" style="left:192.7px;top:8px">Gene Symbol</div>
<div class="h" style="left:244.2px;top:8px">Description</div>
<div class="h" style="left:416.2px;top:0.1px">Locus</div>
<div class="h" style="left:416.2px;top:8px">Link</div>
<div class="g" style="left:448.1px;top:41.0px">Rapidly</div>
<div class="g" style="left:448.1px;top:52.2px">Down-Modulated</div>
<div class="g" style="left:448.1px;top:255.2px">Down-Modulated</div>
<div class="g" style="left:451.3px;top:580.2px">Up-Modulated</div>
<div class="g" style="left:451.3px;top:744.9px">Terminally</div>
<div class="g" style="left:451.3px;top:755.9px">Up-Modulated</div>
<div class="t id" style="top:18.30px">98143_at</div><div class="t sy" style="top:18.30px">Fut8</div><div class="t de" style="top:18.30px">Fucosyltransferase 8</div><div class="t lo" style="top:18.30px">53618</div><div class="t id" style="top:26.06px">99467_at</div><div class="t sy" style="top:26.06px">Rasa1</div><div class="t de" style="top:26.06px">Ras p21 protein activator 1</div><div class="t lo" style="top:26.06px">218379</div><div class="t id" style="top:33.82px">160273_at</div><div class="t sy" style="top:33.82px">Brf2</div><div class="t de" style="top:33.82px">Butyrate response factor 2</div><div class="t lo" style="top:33.82px">12193</div><div class="t id" style="top:41.58px">100962_at</div><div class="t sy" style="top:41.58px">Nab2</div><div class="t de" style="top:41.58px">Ngfi-A binding protein 2</div><div class="t lo" style="top:41.58px">17937</div><div class="t id" style="top:49.34px">102789_at</div><div class="t sy" style="top:49.34px">Gata2</div><div class="t de" style="top:49.34px">GATA-binding protein 2</div><div class="t lo" style="top:49.34px">14461</div><div class="t id" style="top:57.10px">99109_at</div><div class="t sy" style="top:57.10px">Ier2</div><div class="t de" style="top:57.10px">Immediate early response 2</div><div class="t lo" style="top:57.10px">15936</div><div class="t id" style="top:64.86px">100467_at</div><div class="t sy" style="top:64.86px">Lyl1</div><div class="t de" style="top:64.86px">Lymphoblastomic leukemia</div><div class="t lo" style="top:64.86px">17095</div><div class="t id" style="top:72.62px">100468_g_at</div><div class="t sy" style="top:72.62px">Lyl1</div><div class="t de" style="top:72.62px">Lymphoblastomic leukemia</div><div class="t lo" style="top:72.62px">17095</div><div class="t id" style="top:80.38px">98408_at</div><div class="t sy" style="top:80.38px">Hhex</div><div class="t de" style="top:80.38px">Hematopoietically expressed homeobox</div><div class="t lo" style="top:80.38px">15242</div><div class="t id" style="top:88.14px">101065_at</div><div class="t sy" style="top:88.14px">Pcna</div><div class="t de" style="top:88.14px">Proliferating cell nuclear antigen</div><div class="t lo" style="top:88.14px">18538</div><div class="t id" style="top:95.90px">104712_at</div><div class="t sy" style="top:95.90px">Myc</div><div class="t de" style="top:95.90px">Myelocytomatosis oncogene</div><div class="t lo" style="top:95.90px">17869</div><div class="t id" style="top:103.66px">98098_at</div><div class="t sy" style="top:103.66px">Car1</div><div class="t de" style="top:103.66px">Carbonic anhydrase 1</div><div class="t lo" style="top:103.66px">12346</div><div class="t id" style="top:111.42px">98437_at</div><div class="t sy" style="top:111.42px">Casp3</div><div class="t de" style="top:111.42px">Caspase 3, apoptosis related cysteine protease</div><div class="t lo" style="top:111.42px">12367</div><div class="t id" style="top:119.18px">160399_r_at</div><div class="t sy" style="top:119.18px">H2afy</div><div class="t de" style="top:119.18px">H2A histone family, member Y</div><div class="t lo" style="top:119.18px">26914</div><div class="t id" style="top:126.94px">94450_at</div><div class="t sy" style="top:126.94px">D13Wsu123e</div><div class="t de" style="top:126.94px">EST, Nol1 domain</div><div class="t lo" style="top:126.94px">28114</div><div class="t id" style="top:134.70px">97824_at</div><div class="t sy" style="top:134.70px">D11Ertd175e</div><div class="t de" style="top:134.70px">Nucleolar protein family A, member 2</div><div class="t lo" style="top:134.70px">52530</div><div class="t id" style="top:142.46px">93342_at</div><div class="t sy" style="top:142.46px">Mki67ip</div><div class="t de" style="top:142.46px">Mki67 (FHA domain) interacting nucleolar phosphoprotein</div><div class="t lo" style="top:142.46px">98469</div><div class="t id" style="top:150.22px">95657_f_at</div><div class="t sy" style="top:150.22px">Atp6v1f</div><div class="t de" style="top:150.22px">ATPase, H+ transporting, lysosomal 14kDa, V1 subunit F</div><div class="t lo" style="top:150.22px">66144</div><div class="t id" style="top:157.98px">101489_at</div><div class="t sy" style="top:157.98px">Amd1</div><div class="t de" style="top:157.98px">S-adenosylmethionine decarboxylase 1</div><div class="t lo" style="top:157.98px">11702</div><div class="t id" style="top:165.74px">96778_at</div><div class="t sy" style="top:165.74px">Rrr-pending</div><div class="t de" style="top:165.74px">Regulator for ribosome resistance homolog (S. cerevisiae)</div><div class="t lo" style="top:165.74px">59014</div><div class="t id" style="top:173.50px">94456_at</div><div class="t sy" style="top:173.50px">Set</div><div class="t de" style="top:173.50px">SET translocation</div><div class="t lo" style="top:173.50px">56086</div><div class="t id" style="top:181.26px">92569_f_at</div><div class="t sy" style="top:181.26px">Nol5</div><div class="t de" style="top:181.26px">Nucleolar protein 5</div><div class="t lo" style="top:181.26px">55989</div><div class="t id" style="top:189.02px">160266_r_at</div><div class="t sy" style="top:189.02px">1110064N10Rik</div><div class="t de" style="top:189.02px">RIKEN cDNA 1110064N10 gene</div><div class="t lo" style="top:189.02px">67832</div><div class="t id" style="top:196.78px">92540_f_at</div><div class="t sy" style="top:196.78px">Srm</div><div class="t de" style="top:196.78px">Spermidine synthase</div><div class="t lo" style="top:196.78px">20810</div><div class="t id" style="top:204.54px">160521_at</div><div class="t sy" style="top:204.54px">Ncl</div><div class="t de" style="top:204.54px">Nucleolin</div><div class="t lo" style="top:204.54px">17975</div><div class="t id" style="top:212.30px">93081_at</div><div class="t sy" style="top:212.30px">Rbbp7</div><div class="t de" style="top:212.30px">Retinoblastoma binding protein 7</div><div class="t lo" style="top:212.30px">19648</div><div class="t id" style="top:220.06px">95462_at</div><div class="t sy" style="top:220.06px">Bzw2</div><div class="t de" style="top:220.06px">Basic leucine zipper and W2 domains 2</div><div class="t lo" style="top:220.06px">66912</div><div class="t id" style="top:227.82px">97914_at</div><div class="t sy" style="top:227.82px">Hspa9a</div><div class="t de" style="top:227.82px">Heat shock protein, 74 kDa, A</div><div class="t lo" style="top:227.82px">15526</div><div class="t id" style="top:235.58px">98550_at</div><div class="t sy" style="top:235.58px">Set</div><div class="t de" style="top:235.58px">SET translocation</div><div class="t lo" style="top:235.58px">56086</div><div class="t id" style="top:243.34px">104766_at</div><div class="t sy" style="top:243.34px">Nola1</div><div class="t de" style="top:243.34px">Nucleolar protein family A, member 1</div><div class="t lo" style="top:243.34px">68147</div><div class="t id" style="top:251.10px">160416_at</div><div class="t sy" style="top:251.10px">Fkbp3</div><div class="t de" style="top:251.10px">FK506-binding protein 3 (25kD)</div><div class="t lo" style="top:251.10px">30795</div><div class="t id" style="top:258.86px">97452_at</div><div class="t sy" style="top:258.86px">H2afy</div><div class="t de" style="top:258.86px">H2A histone family, member Y</div><div class="t lo" style="top:258.86px">26914</div><div class="t id" style="top:266.62px">93283_at</div><div class="t sy" style="top:266.62px">Aprt</div><div class="t de" style="top:266.62px">Adenine phosphoribosyl transferase</div><div class="t lo" style="top:266.62px">11821</div><div class="t id" style="top:274.38px">96696_at</div><div class="t sy" style="top:274.38px">Hrmt1l2</div><div class="t de" style="top:274.38px">hnRNP methyltransferase-like 2</div><div class="t lo" style="top:274.38px">15469</div><div class="t id" style="top:282.14px">92644_s_at</div><div class="t sy" style="top:282.14px">Myb</div><div class="t de" style="top:282.14px">Myeloblastosis oncogene</div><div class="t lo" style="top:282.14px">17863</div><div class="t id" style="top:289.90px">98524_f_at</div><div class="t sy" style="top:289.90px">2210039B01Rik</div><div class="t de" style="top:289.90px">EST, pol-like</div><div class="t lo" style="top:289.90px">73644</div><div class="t id" style="top:297.66px">99956_at</div><div class="t sy" style="top:297.66px">Kit</div><div class="t de" style="top:297.66px">Kit oncogene</div><div class="t lo" style="top:297.66px">16590</div><div class="t id" style="top:305.42px">102315_at</div><div class="t sy" style="top:305.42px">Tex292</div><div class="t de" style="top:305.42px">Testis expressed gene 292</div><div class="t lo" style="top:305.42px">21771</div><div class="t id" style="top:313.18px">103365_s_at</div><div class="t sy" style="top:313.18px">MGC37568</div><div class="t de" style="top:313.18px">EST, RhoGTPase-like</div><div class="t lo" style="top:313.18px">103378</div><div class="t id" style="top:320.94px">104696_at</div><div class="t sy" style="top:320.94px">Ctse</div><div class="t de" style="top:320.94px">Cathepsin E</div><div class="t lo" style="top:320.94px">13034</div><div class="t id" style="top:328.70px">94452_g_at</div><div class="t sy" style="top:328.70px">D13Wsu123e</div><div class="t de" style="top:328.70px">EST, Nol1 domain</div><div class="t lo" style="top:328.70px">28114</div><div class="t id" style="top:336.46px">160876_at</div><div class="t sy" style="top:336.46px">Bcap29</div><div class="t de" style="top:336.46px">B-cell receptor-associated protein 29</div><div class="t lo" style="top:336.46px">12033</div><div class="t id" style="top:344.22px">93488_at</div><div class="t sy" style="top:344.22px">Srr</div><div class="t de" style="top:344.22px">Serine racemase</div><div class="t lo" style="top:344.22px">27364</div><div class="t id" style="top:351.98px">96849_at</div><div class="t sy" style="top:351.98px">Timm8a</div><div class="t de" style="top:351.98px">Translocase of inner mitochondrial membrane 8 homolog A</div><div class="t lo" style="top:351.98px">30058</div><div class="t id" style="top:359.74px">104089_at</div><div class="t sy" style="top:359.74px">2810026P18Rik</div><div class="t de" style="top:359.74px">RIKEN cDNA 2810026P18 gene</div><div class="t lo" style="top:359.74px">72655</div><div class="t id" style="top:367.50px">160585_at</div><div class="t sy" style="top:367.50px">2810470K21Rik</div><div class="t de" style="top:367.50px">RIKEN cDNA 2810470K21 gene</div><div class="t lo" style="top:367.50px">67239</div><div class="t id" style="top:375.26px">98136_at</div><div class="t sy" style="top:375.26px">Sms</div><div class="t de" style="top:375.26px">Spermine synthase</div><div class="t lo" style="top:375.26px">20603</div><div class="t id" style="top:383.02px">160955_at</div><div class="t sy" style="top:383.02px">2010309E21Rik</div><div class="t de" style="top:383.02px">Riken cDNA 2010309E21</div><div class="t lo" style="top:383.02px">106031</div><div class="t id" style="top:390.78px">93228_at</div><div class="t sy" style="top:390.78px">Hells</div><div class="t de" style="top:390.78px">Helicase, lymphoid specific</div><div class="t lo" style="top:390.78px">15201</div><div class="t id" style="top:398.54px">93070_at</div><div class="t sy" style="top:398.54px">Kpnb3</div><div class="t de" style="top:398.54px">Karyopherin (importin) beta 3</div><div class="t lo" style="top:398.54px">70572</div><div class="t id" style="top:406.30px">98573_r_at</div><div class="t sy" style="top:406.30px">Ranbp1</div><div class="t de" style="top:406.30px">RAN binding protein 1</div><div class="t lo" style="top:406.30px">19385</div><div class="t id" style="top:414.06px">104000_at</div><div class="t sy" style="top:414.06px">2210023G05Rik</div><div class="t de" style="top:414.06px">EST, carboxylesterase-like</div><div class="t lo" style="top:414.06px">72361</div><div class="t id" style="top:421.82px">98500_at</div><div class="t sy" style="top:421.82px">Il1rl1</div><div class="t de" style="top:421.82px">Interleukin 1 receptor-like 1</div><div class="t lo" style="top:421.82px">17082</div><div class="t id" style="top:429.58px">95951_at</div><div class="t sy" style="top:429.58px">Clecsf8</div><div class="t de" style="top:429.58px">C-type lectin, superfamily member 8</div><div class="t lo" style="top:429.58px">17474</div><div class="t id" style="top:437.34px">98917_at</div><div class="t sy" style="top:437.34px">5730414C17Rik</div><div class="t de" style="top:437.34px">RIKEN cDNA 5730414C17 gene</div><div class="t lo" style="top:437.34px">66631</div><div class="t id" style="top:445.10px">103234_at</div><div class="t sy" style="top:445.10px">Nefh</div><div class="t de" style="top:445.10px">Neurofilament, heavy polypeptide</div><div class="t lo" style="top:445.10px">18026</div><div class="t id" style="top:452.86px">161046_at</div><div class="t sy" style="top:452.86px">Crlf1</div><div class="t de" style="top:452.86px">Cytokine receptor-like factor 1</div><div class="t lo" style="top:452.86px">12931</div><div class="t id" style="top:460.62px">97710_f_at</div><div class="t sy" style="top:460.62px">C530045L02</div><div class="t de" style="top:460.62px">Riken cDNA C530045L02 gene</div><div class="t lo" style="top:460.62px">68456</div><div class="t id" style="top:468.38px">93664_at</div><div class="t sy" style="top:468.38px">Atp1b2</div><div class="t de" style="top:468.38px">ATPase, Na+ transporting, beta 2 polypeptide</div><div class="t lo" style="top:468.38px">11932</div><div class="t id" style="top:476.14px">103085_at</div><div class="t sy" style="top:476.14px">Hebp1</div><div class="t de" style="top:476.14px">Heme-binding protein</div><div class="t lo" style="top:476.14px">15199</div><div class="t id" style="top:483.90px">102770_at</div><div class="t sy" style="top:483.90px">Gypa</div><div class="t de" style="top:483.90px">Glycophorin A</div><div class="t lo" style="top:483.90px">14934</div><div class="t id" style="top:491.66px">94747_at</div><div class="t sy" style="top:491.66px">Csf2rb1</div><div class="t de" style="top:491.66px">Colony stimulating factor 2 receptor, beta 1, low-affinity</div><div class="t lo" style="top:491.66px">12983</div><div class="t id" style="top:499.42px">94748_g_at</div><div class="t sy" style="top:499.42px">Csf2rb1</div><div class="t de" style="top:499.42px">Colony stimulating factor 2 receptor, beta 1, low-affinity</div><div class="t lo" style="top:499.42px">12983</div><div class="t id" style="top:507.18px">101077_at</div><div class="t sy" style="top:507.18px">Slc4a1</div><div class="t de" style="top:507.18px">Solute carrier family 4, member 1 (Band 3)</div><div class="t lo" style="top:507.18px">20533</div><div class="t id" style="top:514.94px">98451_at</div><div class="t sy" style="top:514.94px">Dnajb10</div><div class="t de" style="top:514.94px">DnaJ (Hsp40) homolog, subfamily B, member 10</div><div class="t lo" style="top:514.94px">56812</div><div class="t id" style="top:522.70px">94415_at</div><div class="t sy" style="top:522.70px">Bach1</div><div class="t de" style="top:522.70px">BTB and CNC homology 1</div><div class="t lo" style="top:522.70px">12013</div><div class="t id" style="top:530.46px">100877_at</div><div class="t sy" style="top:530.46px">1810058I24Rik</div><div class="t de" style="top:530.46px">EST, similar to RNP-L</div><div class="t lo" style="top:530.46px">67705</div><div class="t id" style="top:538.22px">99849_at</div><div class="t sy" style="top:538.22px">C85523</div><div class="t de" style="top:538.22px">EST similar to MuLV LTR (retrotransposon?)</div><div class="t lo" style="top:538.22px">None</div><div class="t id" style="top:545.98px">102360_at</div><div class="t sy" style="top:545.98px">Mthfr</div><div class="t de" style="top:545.98px">5,10-methylenetetrahydrofolate reductase</div><div class="t lo" style="top:545.98px">17769</div><div class="t id" style="top:553.74px">92603_at</div><div class="t sy" style="top:553.74px">Atp6v0d1</div><div class="t de" style="top:553.74px">ATPase, H transporting, lysosomal, 42 kDa</div><div class="t lo" style="top:553.74px">11972</div><div class="t id" style="top:561.50px">96615_at</div><div class="t sy" style="top:561.50px">0610043B10Rik</div><div class="t de" style="top:561.50px">RIKEN cDNA 0610043B10 gene</div><div class="t lo" style="top:561.50px">66090</div><div class="t id" style="top:569.26px">103210_at</div><div class="t sy" style="top:569.26px">Csf2rb2</div><div class="t de" style="top:569.26px">Colony stimulating factor 2 receptor, beta 2, low-affinity</div><div class="t lo" style="top:569.26px">12984</div><div class="t id" style="top:577.02px">99160_s_at</div><div class="t sy" style="top:577.02px">1110025J15Rik</div><div class="t de" style="top:577.02px">NMDA receptor glutamate-binding chain</div><div class="t lo" style="top:577.02px">66168</div><div class="t id" style="top:584.78px">99161_at</div><div class="t sy" style="top:584.78px">1110025J15Rik</div><div class="t de" style="top:584.78px">NMDA receptor glutamate-binding chain</div><div class="t lo" style="top:584.78px">66168</div><div class="t id" style="top:592.54px">97228_at</div><div class="t sy" style="top:592.54px">Lzp-pending</div><div class="t de" style="top:592.54px">Leucine zipper domain protein</div><div class="t lo" style="top:592.54px">66049</div><div class="t id" style="top:600.30px">160344_at</div><div class="t sy" style="top:600.30px">Npc2</div><div class="t de" style="top:600.30px">Niemann Pick type C2</div><div class="t lo" style="top:600.30px">67963</div><div class="t id" style="top:608.06px">94781_at</div><div class="t sy" style="top:608.06px">Hba-a1</div><div class="t de" style="top:608.06px">Hemoglobin alpha, adult chain 1</div><div class="t lo" style="top:608.06px">15122</div><div class="t id" style="top:615.82px">162457_f_at</div><div class="t sy" style="top:615.82px">Hba-a1</div><div class="t de" style="top:615.82px">Hemoglobin alpha, adult chain 2</div><div class="t lo" style="top:615.82px">15122</div><div class="t id" style="top:623.58px">95025_at</div><div class="t sy" style="top:623.58px">D16H22S680E</div><div class="t de" style="top:623.58px">DNA segment, Chr 16, human D22S680E, expressed</div><div class="t lo" style="top:623.58px">27883</div><div class="t id" style="top:631.34px">95688_at</div><div class="t sy" style="top:631.34px">Degs</div><div class="t de" style="top:631.34px">Degenerative spermatocyte homolog</div><div class="t lo" style="top:631.34px">13244</div><div class="t id" style="top:639.10px">97843_at</div><div class="t sy" style="top:639.10px">Ncoa4</div><div class="t de" style="top:639.10px">Nuclear receptor coactivator 4</div><div class="t lo" style="top:639.10px">27057</div><div class="t id" style="top:646.86px">160205_f_at</div><div class="t sy" style="top:646.86px">Rnf11</div><div class="t de" style="top:646.86px">Ring finger protein 11</div><div class="t lo" style="top:646.86px">29864</div><div class="t id" style="top:654.62px">98104_at</div><div class="t sy" style="top:654.62px">Atp6v06</div><div class="t de" style="top:654.62px">ATPase, H+ transporting, V0 subunit B</div><div class="t lo" style="top:654.62px">114143</div><div class="t id" style="top:662.38px">96951_at</div><div class="t sy" style="top:662.38px">Atp6v1d</div><div class="t de" style="top:662.38px">ATPase H+, transporting, V1 subunit D</div><div class="t lo" style="top:662.38px">73834</div><div class="t id" style="top:670.14px">161763_r_at</div><div class="t sy" style="top:670.14px">Pip5k2c</div><div class="t de" style="top:670.14px">Phosphatidylinositol-4-phosphate 5-kinase, type II, gamma</div><div class="t lo" style="top:670.14px">117150</div><div class="t id" style="top:677.90px">93614_at</div><div class="t sy" style="top:677.90px">D4Ertd174e</div><div class="t de" style="top:677.90px">EST, similar to RagD</div><div class="t lo" style="top:677.90px">70641</div><div class="t id" style="top:685.66px">92768_s_at</div><div class="t sy" style="top:685.66px">Alas2</div><div class="t de" style="top:685.66px">Aminolevulinic acid synthase 2, erythroid</div><div class="t lo" style="top:685.66px">11656</div><div class="t id" style="top:693.42px">96869_at</div><div class="t sy" style="top:693.42px">Gabarap</div><div class="t de" style="top:693.42px">Gamma-aminobutyric acid receptor associated protein</div><div class="t lo" style="top:693.42px">56486</div><div class="t id" style="top:701.18px">94831_at</div><div class="t sy" style="top:701.18px">Ctsb</div><div class="t de" style="top:701.18px">Cathepsin B</div><div class="t lo" style="top:701.18px">13030</div><div class="t id" style="top:708.94px">97690_at</div><div class="t sy" style="top:708.94px">5033405D03Rik</div><div class="t de" style="top:708.94px">Riken cDNA 5033405D03 gene</div><div class="t lo" style="top:708.94px">109016</div><div class="t id" style="top:716.70px">95430_f_at</div><div class="t sy" style="top:716.70px">D9Wsu18e</div><div class="t de" style="top:716.70px">DNA segment, Chr 9, Wayne State University 18, expressed</div><div class="t lo" style="top:716.70px">27965</div><div class="t id" style="top:724.46px">96278_at</div><div class="t sy" style="top:724.46px">1110020C13Rik</div><div class="t de" style="top:724.46px">RIKEN cDNA 1110020C13 gene</div><div class="t lo" style="top:724.46px">66151</div><div class="t id" style="top:732.22px">103225_at</div><div class="t sy" style="top:732.22px">2310005K03Rik</div><div class="t de" style="top:732.22px">RIKEN cDNA 2310005K03 gene</div><div class="t lo" style="top:732.22px">69537</div><div class="t id" style="top:739.98px">104603_at</div><div class="t sy" style="top:739.98px">Gstt2</div><div class="t de" style="top:739.98px">Glutathione S-transferase, theta 2</div><div class="t lo" style="top:739.98px">14872</div><div class="t id" style="top:747.74px">96154_at</div><div class="t sy" style="top:747.74px">Renbp</div><div class="t de" style="top:747.74px">Renin-binding protein</div><div class="t lo" style="top:747.74px">19703</div><div class="t id" style="top:755.50px">102364_at</div><div class="t sy" style="top:755.50px">Jund1</div><div class="t de" style="top:755.50px">Jun proto-oncogene related gene d1</div><div class="t lo" style="top:755.50px">16478</div><div class="t id" style="top:763.26px">160296_at</div><div class="t sy" style="top:763.26px">WSB-2</div><div class="t de" style="top:763.26px">WD-40-Repeat-containing protein with SOCS box 2</div><div class="t lo" style="top:763.26px">59043</div><div class="t id" style="top:771.02px">100564_at</div><div class="t sy" style="top:771.02px">Ddt</div><div class="t de" style="top:771.02px">D-dopachrome tautomerase</div><div class="t lo" style="top:771.02px">13202</div><div class="t id" style="top:778.78px">103637_at</div><div class="t sy" style="top:778.78px">Naga</div><div class="t de" style="top:778.78px">N-acetyl galactosaminidase, alpha</div><div class="t lo" style="top:778.78px">17939</div></div>
</div></body></html>
